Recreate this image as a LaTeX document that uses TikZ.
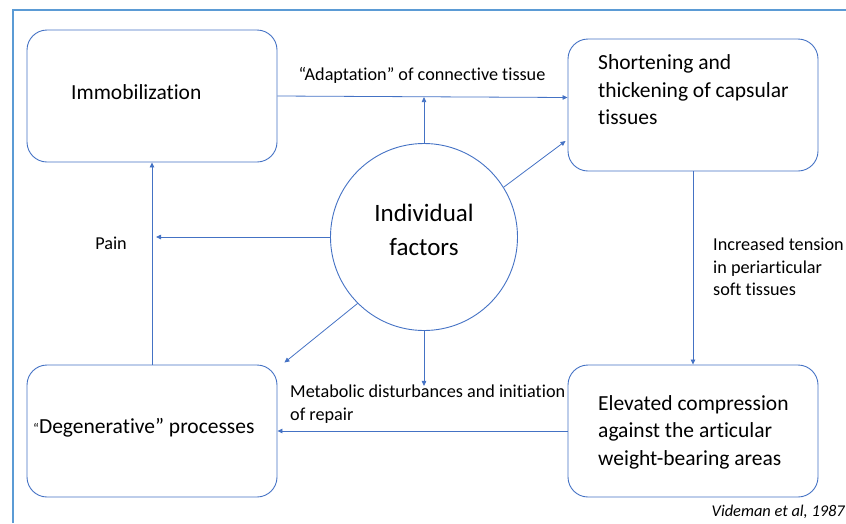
\documentclass[tikz,border=0pt]{standalone}
\usepackage{fontspec}
\setmainfont{Carlito}[Ligatures=NoCommon]
\usetikzlibrary{arrows.meta,calc}
\definecolor{ln}{HTML}{4472C4}
\definecolor{fr}{HTML}{5B9BD5}
\begin{document}
\begin{tikzpicture}[x=1pt,y=-1pt,
  box/.style={draw=ln, line width=0.9pt, rounded corners=20pt, minimum width=250pt, minimum height=132pt, inner sep=0pt},
  arr/.style={draw=ln, line width=0.8pt, -{Triangle[length=5pt,width=4.5pt]}},
  big/.style={font=\fontsize{21.5}{27.5}\selectfont, align=left, inner sep=0pt, anchor=west},
  lab/.style={font=\fontsize{18.2}{22.5}\selectfont, align=left, inner sep=0pt}]
\useasboundingbox (0,0) rectangle (846,523);
\draw[fr, line width=2pt] (13,523) -- (13,10) -- (846,10);
% boxes
\node[box] (imm) at (152,96) {};
\node[box] (sho) at (693,105) {};
\node[box] (deg) at (152,431) {};
\node[box] (ele) at (693,431) {};
\node[draw=ln, line width=0.9pt, circle, minimum size=187pt, inner sep=0pt] (ind) at (424,237) {};
% texts
\node[big] (timm) at (71,92) {Immobilization};
\node[big] (tsho) at (598,90) {Shortening and\\thickening of capsular\\tissues};
\node[big] (tdeg) at (33,428) {{\fontsize{14}{14}\selectfont “}Degenerative” processes};
\node[big] (tele) at (598,432) {Elevated compression\\against the articular\\weight-bearing areas};
\node[font=\fontsize{25}{34}\selectfont, align=center, inner sep=0pt] (tind) at (424,230) {Individual\\factors};
% labels
\node[lab] (ladapt) at (422,75) {“Adaptation” of connective tissue};
\node[lab] (lpain) at (111,243) {Pain};
\node[lab, anchor=west] (ltens) at (713,267) {Increased tension\\in periarticular\\soft tissues};
\node[lab, anchor=west] (lmeta) at (290,404) {Metabolic disturbances and initiation\\of repair};
\node[font=\fontsize{16.4}{19}\selectfont\itshape, inner sep=0pt, anchor=east] (lvid) at (845,512) {Videman et al, 1987};
% connectors
\draw[arr] (imm.east) -- ($(sho.west |- imm.east)+(0,1.5)$);
\draw[arr] (ind.north) -- ($(ind.north)+(0,-46)$);
\draw[arr] (ind.32) -- ($(sho.west)+(-2,36)$);
\draw[arr] (ind.west) -- ($(imm.south |- ind.west)+(4,0)$);
\draw[arr] (deg.north) -- (imm.south);
\draw[arr] (ind.225) -- ($(deg.north east)+(7,-2)$);
\draw[arr] (ind.south) -- ($(ind.south)+(0,55)$);
\draw[arr] (sho.south) -- (ele.north);
\draw[arr] (ele.west) -- (deg.east);
\end{tikzpicture}
\end{document}
